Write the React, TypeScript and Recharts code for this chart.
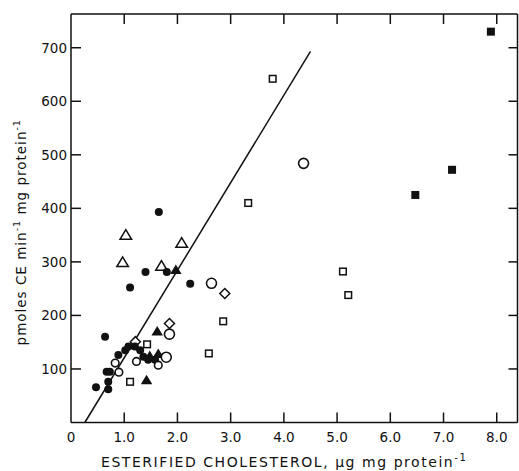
import React from 'react';
import { ScatterChart, Scatter, XAxis, YAxis, ReferenceLine } from 'recharts';

const xTicks = [0, 1, 2, 3, 4, 5, 6, 7, 8];
const xTickLabels = ['0', '1.0', '2.0', '3.0', '4.0', '5.0', '6.0', '7.0', '8.0'];
const yTicks = [100, 200, 300, 400, 500, 600, 700];
const xDomain = [0, 8.39];
const yDomain = [0, 763];

const filledCircles = [
  { x: 0.47, y: 66 }, { x: 0.70, y: 62 }, { x: 0.70, y: 76 }, { x: 0.67, y: 95 },
  { x: 0.73, y: 95 }, { x: 0.89, y: 126 }, { x: 1.02, y: 135 }, { x: 1.08, y: 142 },
  { x: 0.64, y: 160 }, { x: 1.20, y: 142 }, { x: 1.30, y: 135 }, { x: 1.36, y: 123 },
  { x: 1.45, y: 117 }, { x: 1.58, y: 117 }, { x: 1.11, y: 252 }, { x: 1.40, y: 281 },
  { x: 1.80, y: 281 }, { x: 2.24, y: 259 }, { x: 1.65, y: 393 },
];
const filledTriangles = [
  { x: 1.97, y: 285 }, { x: 1.62, y: 170 }, { x: 1.42, y: 79 }, { x: 1.48, y: 124 }, { x: 1.64, y: 128 },
];
const smallOpenCircles = [
  { x: 0.83, y: 111 }, { x: 0.90, y: 94 }, { x: 1.23, y: 114 }, { x: 1.64, y: 107 },
];
const largeOpenCircles = [
  { x: 1.79, y: 122 }, { x: 1.85, y: 165 }, { x: 2.64, y: 260 }, { x: 4.37, y: 484 },
];
const openTriangles = [
  { x: 1.03, y: 350 }, { x: 0.97, y: 299 }, { x: 2.08, y: 335 }, { x: 1.70, y: 292 },
];
const openDiamonds = [
  { x: 1.21, y: 151 }, { x: 1.85, y: 185 }, { x: 2.89, y: 241 },
];
const openSquares = [
  { x: 1.43, y: 146 }, { x: 1.11, y: 76 }, { x: 2.59, y: 129 }, { x: 2.86, y: 189 },
  { x: 3.33, y: 410 }, { x: 3.79, y: 642 }, { x: 5.11, y: 282 }, { x: 5.21, y: 238 },
];
const filledSquares = [
  { x: 6.47, y: 425 }, { x: 7.16, y: 472 }, { x: 7.89, y: 730 },
];
const regressionLine = [
  { x: 0.26, y: 0 }, { x: 4.5, y: 693 },
];

const FONT = 'DejaVu Sans, sans-serif';
const INK = '#111';

const FilledCircle = (p: any) => <circle cx={p.cx} cy={p.cy} r={4} fill={INK} />;
const SmallOpenCircle = (p: any) => (
  <circle cx={p.cx} cy={p.cy} r={3.8} fill="#fff" stroke={INK} strokeWidth={1.6} />
);
const LargeOpenCircle = (p: any) => (
  <circle cx={p.cx} cy={p.cy} r={5} fill="#fff" stroke={INK} strokeWidth={1.6} />
);
const triPoints = (cx: number, cy: number, s: number) =>
  `${cx},${cy - s} ${cx - s * 1.05},${cy + s * 0.75} ${cx + s * 1.05},${cy + s * 0.75}`;
const FilledTriangle = (p: any) => <polygon points={triPoints(p.cx, p.cy, 5.5)} fill={INK} />;
const OpenTriangle = (p: any) => (
  <polygon points={triPoints(p.cx, p.cy, 5.5)} fill="#fff" stroke={INK} strokeWidth={1.5} />
);
const OpenDiamond = (p: any) => (
  <polygon
    points={`${p.cx},${p.cy - 5} ${p.cx + 5},${p.cy} ${p.cx},${p.cy + 5} ${p.cx - 5},${p.cy}`}
    fill="#fff" stroke={INK} strokeWidth={1.5}
  />
);
const OpenSquare = (p: any) => (
  <rect x={p.cx - 3.3} y={p.cy - 3.3} width={6.6} height={6.6} fill="#fff" stroke={INK} strokeWidth={1.5} />
);
const FilledSquare = (p: any) => (
  <rect x={p.cx - 4} y={p.cy - 4} width={8} height={8} fill={INK} />
);

const BottomTick = (p: any) => {
  const i = xTicks.indexOf(p.payload.value);
  return (
    <g>
      {p.payload.value !== 0 && (
        <line x1={p.x} x2={p.x} y1={p.y} y2={p.y - 10} stroke={INK} strokeWidth={1.5} />
      )}
      <text x={p.x} y={p.y + 19} textAnchor="middle" fontFamily={FONT} fontSize={13.5} fill={INK}>
        {xTickLabels[i]}
      </text>
    </g>
  );
};
const TopTick = (p: any) =>
  p.payload.value === 0 ? <g /> : (
    <line x1={p.x} x2={p.x} y1={p.y} y2={p.y + 10} stroke={INK} strokeWidth={1.5} />
  );
const LeftTick = (p: any) => (
  <g>
    <line x1={p.x} x2={p.x + 10} y1={p.y} y2={p.y} stroke={INK} strokeWidth={1.5} />
    <text x={p.x - 4} y={p.y + 5} textAnchor="end" fontFamily={FONT} fontSize={13.5} fill={INK}>
      {p.payload.value}
    </text>
  </g>
);
const RightTick = (p: any) => (
  <line x1={p.x} x2={p.x - 9} y1={p.y} y2={p.y} stroke={INK} strokeWidth={1.5} />
);

const XTitle = (p: any) => {
  const vb = p.viewBox || { x: 71, y: 422.5, width: 446, height: 48 };
  return (
    <text x={vb.x + 30} y={vb.y + 44} fontFamily={FONT} fontSize={14} letterSpacing={1.55} fill={INK}>
      ESTERIFIED CHOLESTEROL, μg mg protein
      <tspan dy={-6} fontSize={10}>-1</tspan>
    </text>
  );
};
const YTitle = (p: any) => {
  const vb = p.viewBox || { x: 0, y: 14, width: 71, height: 408 };
  const cx = 26;
  const cy = vb.y + vb.height / 2 + 14;
  return (
    <text
      x={cx} y={cy} textAnchor="middle" transform={`rotate(-90 ${cx} ${cy})`}
      fontFamily={FONT} fontSize={13.5} letterSpacing={1} fill={INK}
    >
      pmoles CE min<tspan dy={-6} fontSize={9.5}>-1</tspan>
      <tspan dy={6}> mg protein</tspan>
      <tspan dy={-6} fontSize={9.5}>-1</tspan>
    </text>
  );
};

export default function App() {
  return (
    <div style={{ position: 'absolute', left: 0, top: 0, width: 519, height: 471, background: '#fff' }}>
      <ScatterChart width={519} height={471} margin={{ top: 0, right: 0, bottom: 0, left: 0 }}>
        <XAxis
          xAxisId="b" type="number" dataKey="x" domain={xDomain} ticks={xTicks} interval={0}
          orientation="bottom" height={48.5} tickSize={0} tickMargin={0} tickLine={false}
          axisLine={{ stroke: INK, strokeWidth: 1.5 }} tick={<BottomTick />} allowDataOverflow
          label={<XTitle />}
        />
        <XAxis
          xAxisId="t" type="number" dataKey="x" domain={xDomain} ticks={xTicks} interval={0}
          orientation="top" height={14} tickSize={0} tickMargin={0} tickLine={false}
          axisLine={{ stroke: INK, strokeWidth: 1.5 }} tick={<TopTick />} allowDataOverflow
        />
        <YAxis
          yAxisId="l" type="number" dataKey="y" domain={yDomain} ticks={yTicks} interval={0}
          orientation="left" width={71} tickSize={0} tickMargin={0} tickLine={false}
          axisLine={{ stroke: INK, strokeWidth: 1.5 }} tick={<LeftTick />} allowDataOverflow
          label={<YTitle />}
        />
        <YAxis
          yAxisId="r" type="number" dataKey="y" domain={yDomain} ticks={yTicks} interval={0}
          orientation="right" width={1.5} tickSize={0} tickMargin={0} tickLine={false}
          axisLine={{ stroke: INK, strokeWidth: 1.5 }} tick={<RightTick />} allowDataOverflow
        />
        <ReferenceLine
          xAxisId="b" yAxisId="l" segment={regressionLine} stroke={INK} strokeWidth={1.5}
          ifOverflow="visible"
        />
        <Scatter xAxisId="b" yAxisId="l" data={openSquares} shape={OpenSquare} isAnimationActive={false} />
        <Scatter xAxisId="b" yAxisId="l" data={filledSquares} shape={FilledSquare} isAnimationActive={false} />
        <Scatter xAxisId="b" yAxisId="l" data={openTriangles} shape={OpenTriangle} isAnimationActive={false} />
        <Scatter xAxisId="b" yAxisId="l" data={openDiamonds} shape={OpenDiamond} isAnimationActive={false} />
        <Scatter xAxisId="b" yAxisId="l" data={filledCircles} shape={FilledCircle} isAnimationActive={false} />
        <Scatter xAxisId="b" yAxisId="l" data={filledTriangles} shape={FilledTriangle} isAnimationActive={false} />
        <Scatter xAxisId="b" yAxisId="l" data={smallOpenCircles} shape={SmallOpenCircle} isAnimationActive={false} />
        <Scatter xAxisId="b" yAxisId="l" data={largeOpenCircles} shape={LargeOpenCircle} isAnimationActive={false} />
      </ScatterChart>
    </div>
  );
}
